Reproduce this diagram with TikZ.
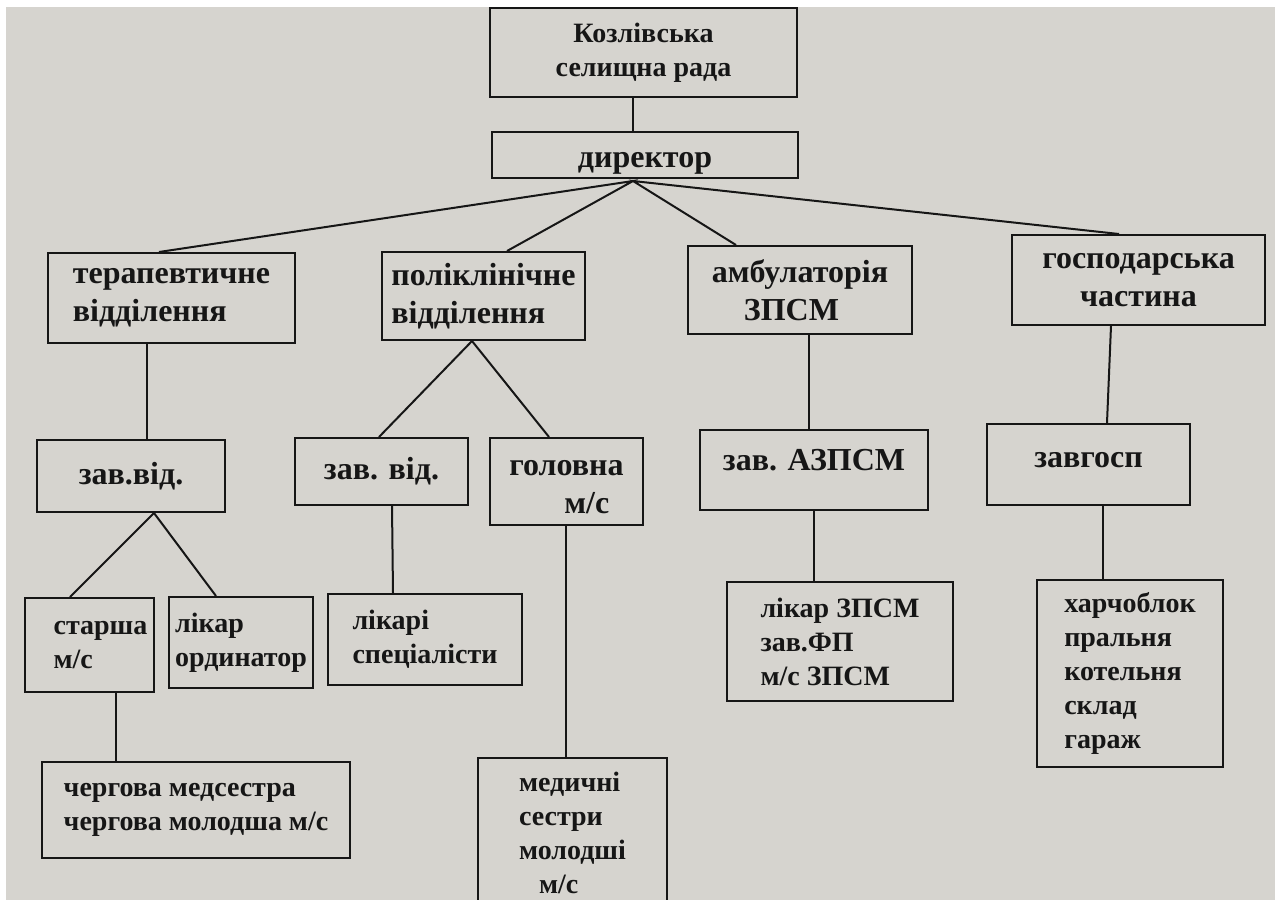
\documentclass[tikz,border=0pt]{standalone}
\usepackage{fontspec}
\setmainfont{Liberation Serif}
\definecolor{paper}{RGB}{214,212,207}
\definecolor{ink}{RGB}{22,22,22}
\begin{document}
\begin{tikzpicture}[x=1pt,y=-1pt,
  box/.style={draw=ink,line width=2pt,inner sep=0pt,text=ink,align=left,
    font=\fontsize{32}{38}\selectfont\bfseries},
  small/.style={font=\fontsize{28}{34}\selectfont\bfseries},
  link/.style={draw=ink,line width=2pt}]
\clip(0,0)rectangle(1275,900);
\fill[white](0,0)rectangle(1275,900);
\fill[paper](6,7)rectangle(1275,900);
% top of the chart
\node[box,small,align=center,minimum width=307pt,minimum height=89pt](rada)at(643.5,52.5){Козлівська\\селищна рада};
\node[box,minimum width=306pt,minimum height=46pt](dir)at(645,155){\rule{0pt}{31pt}директор};
% departments
\node[box,minimum width=247pt,minimum height=90pt](ter)at(171.5,298){терапевтичне\\відділення};
\node[box,minimum width=203pt,minimum height=88pt](pol)at(483.5,296){поліклінічне\\відділення};
\node[box,minimum width=224pt,minimum height=88pt](amb)at(800,290){амбулаторія\\\hspace*{32pt}ЗПСМ};
\node[box,align=center,minimum width=253pt,minimum height=90pt](gos)at(1138.5,280){господарська\\частина};
% heads
\node[box,minimum width=188pt,minimum height=72pt](zv1)at(131,476){зав.від.};
\node[box,minimum width=173pt,minimum height=67pt](zv2)at(381.5,471.5){зав. від.};
\node[box,minimum width=153pt,minimum height=87pt](gol)at(566.5,481.5){\rule{0pt}{27pt}головна\\\hspace*{55pt}м/с};
\node[box,minimum width=228pt,minimum height=80pt](zaz)at(814,470){\rule[-21pt]{0pt}{0pt}зав. АЗПСМ};
\node[box,minimum width=203pt,minimum height=81pt](zavg)at(1088.5,464.5){\rule[-10pt]{0pt}{0pt}завгосп};
% staff
\node[box,small,minimum width=129pt,minimum height=94pt](star)at(89.5,645){\hspace*{22pt}старша\\\hspace*{22pt}м/с};
\node[box,small,minimum width=144pt,minimum height=91pt](lik)at(241,642.5){лікар\\ординатор};
\node[box,small,minimum width=194pt,minimum height=91pt](spec)at(425,639.5){лікарі\\спеціалісти};
\node[box,small,minimum width=226pt,minimum height=119pt](zpsm)at(840,641.5){лікар ЗПСМ\\зав.ФП\\м/с ЗПСМ};
\node[box,small,minimum width=186pt,minimum height=187pt](harch)at(1130,673.5){харчоблок\\пральня\\котельня\\склад\\гараж};
\node[box,small,minimum width=308pt,minimum height=96pt](cher)at(196,810){чергова медсестра\\чергова молодша м/с};
\node[box,small,minimum width=189pt,minimum height=150pt,anchor=north](med)at(572.5,757){медичні\\сестри\\молодші\\\hspace*{20pt}м/с};
% connectors
\coordinate(fork)at([xshift=-12pt,yshift=-2pt]dir.south);
\draw[link]([xshift=-10.5pt]rada.south)--([xshift=-12pt]dir.north);
\draw[link]([xshift=112pt]ter.north west)--(fork)--([xshift=126pt]pol.north west);
\draw[link]([xshift=49pt]amb.north west)--(fork)--([xshift=108pt]gos.north west);
\draw[link]([xshift=100pt]ter.south west)--([xshift=111pt]zv1.north west);
\draw[link]([xshift=46pt]star.north west)--([xshift=118pt]zv1.south west)--([xshift=48pt]lik.north west);
\draw[link]([xshift=92pt]star.south west)--([xshift=75pt]cher.north west);
\draw[link]([xshift=85pt]zv2.north west)--([xshift=91pt]pol.south west)--([xshift=60pt]gol.north west);
\draw[link]([xshift=98pt]zv2.south west)--([xshift=66pt]spec.north west);
\draw[link]([xshift=77pt]gol.south west)--([xshift=89pt]med.north west);
\draw[link]([xshift=122pt]amb.south west)--([xshift=110pt]zaz.north west);
\draw[link]([xshift=115pt]zaz.south west)--([xshift=88pt]zpsm.north west);
\draw[link]([xshift=100pt]gos.south west)--([xshift=121pt]zavg.north west);
\draw[link]([xshift=117pt]zavg.south west)--([xshift=67pt]harch.north west);
\end{tikzpicture}
\end{document}
